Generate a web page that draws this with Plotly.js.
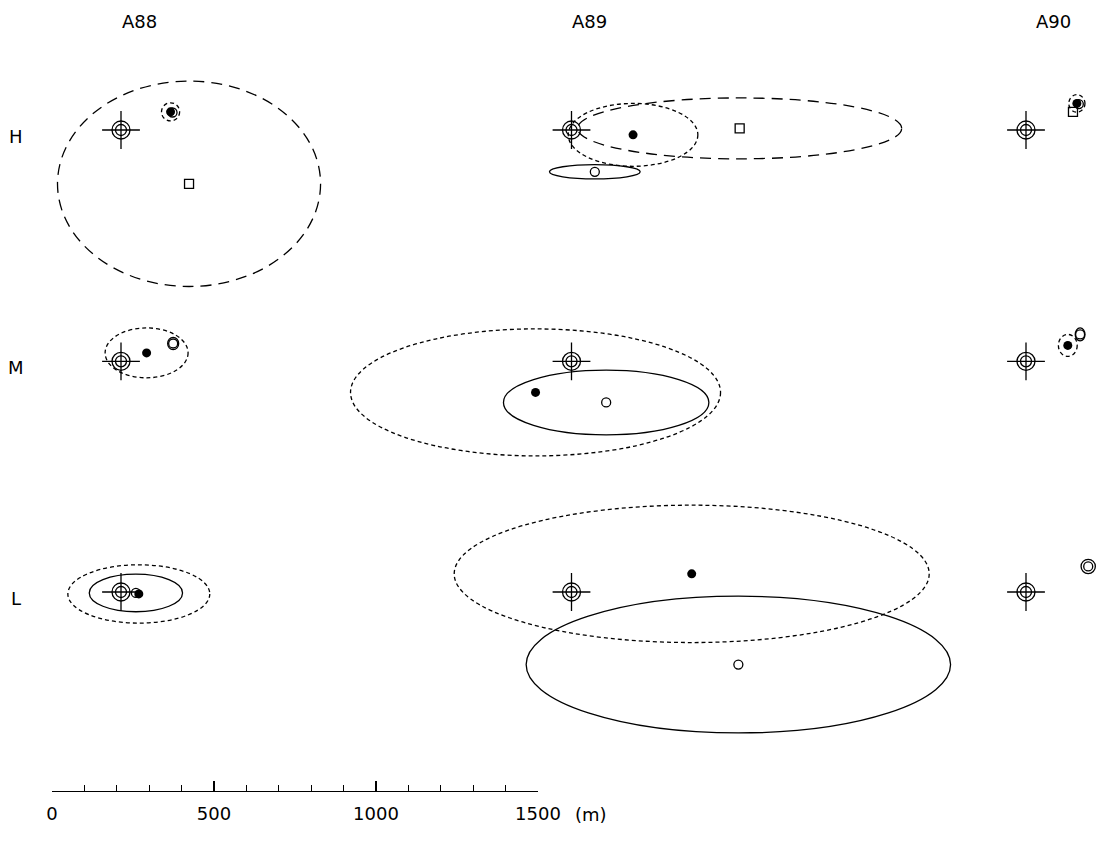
<!DOCTYPE html>
<html>
<head>
<meta charset="utf-8">
<script src="https://cdn.plot.ly/plotly-3.0.1.min.js"></script>
<style>html,body{margin:0;padding:0;background:#fff;}#chart{width:1100px;height:856px;}</style>
</head>
<body>
<div id="chart"></div>
<script>
// ---------------- DATA (metres) ----------------
const columns = ['A88', 'A89', 'A90'];
const rows = ['H', 'M', 'L'];
// cell order: A88-H, A89-H, A90-H, A88-M, A89-M, A90-M, A88-L, A89-L, A90-L
// offsets from the reference site (crosshair), metres; east = +x, north = +y
const filledDx = [153, 190, 157, 79, -111, 129, 55, 371, null];
const filledDy = [56, -15, 82, 26, -96, 49, -6, 56, null];
const openDx = [159, 72, 163, 161, 107, 167, 46, 515, 192];
const openDy = [54, -129, 80, 55, -127, 83, -3, -224, 79];
const squareDx = [210, 519, 145, null, null, null, null, null, null];
const squareDy = [-166, 5, 56, null, null, null, null, null, null];
// error ellipses (semi-axes, metres) around each estimate
const filledEllRx = [28, 200, 25, 128, 571, 29, 219, 733, null];
const filledEllRy = [28, 97, 27, 77, 196, 34, 90, 212, null];
const openEllRx = [null, 140, null, 17, 317, 15, 144, 655, 22];
const openEllRy = [null, 22, null, 19, 100, 20, 58, 211, 22];
const squareEllRx = [406, 500, null, null, null, null, null, null, null];
const squareEllRy = [317, 94, null, null, null, null, null, null, null];
// scale bar
const scaleTicks = [0, 500, 1000, 1500];
const scaleTickText = ['0', '500', '1000', '1500'];
const scaleUnit = '(m)';

// ---------------- LAYOUT GEOMETRY ----------------
const W = 1100, H = 856;
const K = 1500 / 486;            // metres per pixel
const barLeftPx = 52, barYPx = 791;
const colPx = [121, 571.5, 1026];
const rowPx = [130, 361.3, 592];
const colX = colPx.map(p => (p - barLeftPx) * K);
const rowY = rowPx.map(p => (barYPx - p) * K);
const cellCol = [0, 1, 2, 0, 1, 2, 0, 1, 2];
const cellRow = [0, 0, 0, 1, 1, 1, 2, 2, 2];
const ox = cellCol.map(c => colX[c]);
const oy = cellRow.map(r => rowY[r]);

function abs(dx, origin) { return dx.map((d, i) => d === null ? null : origin[i] + d); }

const LW = 1.3;
const traces = [];
// reference sites: double circle + cross
traces.push({x: ox, y: oy, mode: 'markers', type: 'scatter', hoverinfo: 'skip', cliponaxis: false,
  marker: {symbol: 'cross-thin-open', size: 27, color: 'black', line: {color: 'black', width: LW}}});
traces.push({x: ox, y: oy, mode: 'markers', type: 'scatter', hoverinfo: 'skip', cliponaxis: false,
  marker: {symbol: 'circle-open', size: 18, color: 'black', line: {color: 'black', width: LW}}});
traces.push({x: ox, y: oy, mode: 'markers', type: 'scatter', hoverinfo: 'skip', cliponaxis: false,
  marker: {symbol: 'circle-open', size: 11, color: 'black', line: {color: 'black', width: LW}}});
// estimates
traces.push({x: abs(openDx, ox), y: abs(openDy, oy), mode: 'markers', type: 'scatter', cliponaxis: false,
  marker: {symbol: 'circle-open', size: 9, color: 'black', line: {color: 'black', width: LW}}});
traces.push({x: abs(squareDx, ox), y: abs(squareDy, oy), mode: 'markers', type: 'scatter', cliponaxis: false,
  marker: {symbol: 'square-open', size: 9, color: 'black', line: {color: 'black', width: LW}}});
traces.push({x: abs(filledDx, ox), y: abs(filledDy, oy), mode: 'markers', type: 'scatter', cliponaxis: false,
  marker: {symbol: 'circle', size: 9, color: 'black', line: {width: 0}}});
// scale-bar axis carrier
traces.push({x: scaleTicks, y: scaleTicks.map(() => null), xaxis: 'x2', yaxis: 'y',
  mode: 'markers', type: 'scatter', hoverinfo: 'skip', showlegend: false});

const shapes = [];
function addEll(dx, dy, rx, ry, dash) {
  for (let i = 0; i < rx.length; i++) {
    if (rx[i] === null || dx[i] === null) continue;
    const cx = ox[i] + dx[i], cy = oy[i] + dy[i];
    shapes.push({type: 'circle', xref: 'x', yref: 'y', layer: 'above',
      x0: cx - rx[i], x1: cx + rx[i], y0: cy - ry[i], y1: cy + ry[i],
      line: {color: 'black', width: LW, dash: dash}});
  }
}
addEll(filledDx, filledDy, filledEllRx, filledEllRy, '4px,3px');
addEll(openDx, openDy, openEllRx, openEllRy, 'solid');
addEll(squareDx, squareDy, squareEllRx, squareEllRy, '11px,7px');

const font = {family: 'DejaVu Sans, Liberation Sans, sans-serif', size: 18, color: 'black'};
const annotations = [];
const colLabelPx = [[140, 21], [589, 21], [1053, 21]];
columns.forEach((t, i) => annotations.push({text: t, xref: 'paper', yref: 'paper',
  x: colLabelPx[i][0] / W, y: 1 - colLabelPx[i][1] / H, showarrow: false,
  xanchor: 'center', yanchor: 'middle', font: font}));
const rowLabelPx = [[16, 137], [16, 367], [16, 598]];
rows.forEach((t, i) => annotations.push({text: t, xref: 'paper', yref: 'paper',
  x: rowLabelPx[i][0] / W, y: 1 - rowLabelPx[i][1] / H, showarrow: false,
  xanchor: 'center', yanchor: 'middle', font: font}));
annotations.push({text: scaleUnit, xref: 'paper', yref: 'paper', x: 591 / W, y: 1 - 814 / H,
  showarrow: false, xanchor: 'center', yanchor: 'middle', font: font});

const layout = {
  width: W, height: H, margin: {l: 0, r: 0, t: 0, b: 0, pad: 0},
  paper_bgcolor: 'white', plot_bgcolor: 'rgba(0,0,0,0)', showlegend: false,
  xaxis: {visible: false, range: [-barLeftPx * K, (W - barLeftPx) * K], fixedrange: true},
  yaxis: {visible: false, range: [-(H - barYPx) * K, barYPx * K], fixedrange: true},
  xaxis2: {domain: [barLeftPx / W, (barLeftPx + 486) / W], anchor: 'free',
    position: (H - barYPx) / H, range: [0, 1500], showline: true, linecolor: 'black',
    linewidth: LW, showgrid: false, zeroline: false, ticks: 'inside', ticklen: 10,
    tickwidth: LW, tickcolor: 'black', tickvals: scaleTicks, ticktext: scaleTickText,
    ticklabelstandoff: 6, tickfont: font,
    minor: {dtick: 100, tick0: 0, ticks: 'inside', ticklen: 6, tickwidth: 1.1, tickcolor: 'black', showgrid: false}},
  shapes: shapes, annotations: annotations
};
Plotly.newPlot('chart', traces, layout, {staticPlot: true, displayModeBar: false});
</script>
</body>
</html>
